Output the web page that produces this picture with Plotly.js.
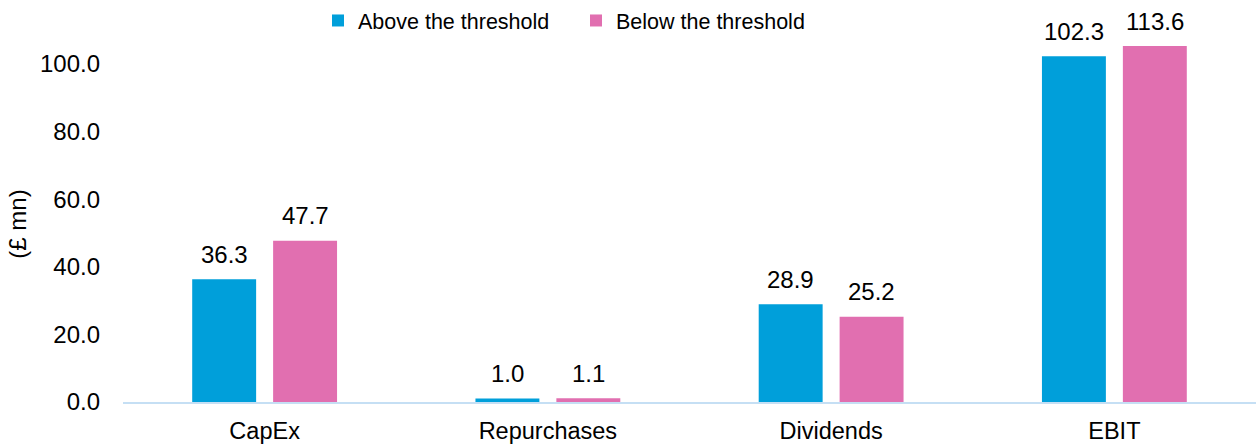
<!DOCTYPE html>
<html>
<head>
<meta charset="utf-8">
<script src="https://cdn.plot.ly/plotly-3.0.1.min.js"></script>
<style>html,body{margin:0;padding:0;background:#fff;}#chart{width:1256px;height:445px;}</style>
</head>
<body>
<div id="chart"></div>
<script>
const categories = ["CapEx", "Repurchases", "Dividends", "EBIT"];
const seriesNames = ["Above the threshold", "Below the threshold"];
const aboveValues = [36.3, 1.0, 28.9, 102.3];
const belowValues = [47.7, 1.1, 25.2, 113.6];
const yTicks = [0, 20, 40, 60, 80, 100];
const yMax = 105.3;

const colors = ["#009FDA", "#E16FB0"];
const fontFamily = "Liberation Sans, Arial, sans-serif";
const bargap = 0.4286;
const bargroupgap = 0.21;

const series = [aboveValues, belowValues];
const traces = series.map((vals, i) => ({
  type: "bar",
  name: seriesNames[i],
  x: categories,
  y: vals,
  marker: {color: colors[i]},
  hoverinfo: "skip"
}));

const slot = (1 - bargap) / 2;
const annotations = [];
series.forEach((vals, s) => {
  vals.forEach((v, k) => {
    annotations.push({
      x: k + (s === 0 ? -slot / 2 : slot / 2),
      y: Math.min(v, yMax),
      xref: "x", yref: "y",
      text: v.toFixed(1),
      showarrow: false,
      yanchor: "middle",
      yshift: 25,
      font: {family: fontFamily, size: 24, color: "#000"}
    });
  });
});

const layout = {
  width: 1256, height: 445,
  margin: {l: 123, r: 0, t: 46, b: 43},
  paper_bgcolor: "#fff", plot_bgcolor: "#fff",
  font: {family: fontFamily, size: 22, color: "#000"},
  barmode: "group",
  bargap: bargap,
  bargroupgap: bargroupgap,
  showlegend: true,
  legend: {
    orientation: "h",
    xref: "container", yref: "container",
    x: 318 / 1256, xanchor: "left",
    y: 1, yanchor: "top",
    entrywidth: 213, entrywidthmode: "pixels",
    font: {family: fontFamily, size: 21.5, color: "#000"},
    traceorder: "normal",
    itemclick: false
  },
  xaxis: {
    type: "category",
    showline: true, linecolor: "#C5DFF4", linewidth: 2,
    ticks: "", showgrid: false, zeroline: false,
    ticklabelstandoff: 7,
    tickfont: {family: fontFamily, size: 23.5, color: "#000"}
  },
  yaxis: {
    range: [0, yMax],
    tickvals: yTicks,
    ticktext: yTicks.map(t => t.toFixed(1)),
    showgrid: false, zeroline: false, showline: false, ticks: "",
    ticklabelstandoff: 22,
    tickfont: {family: fontFamily, size: 24, color: "#000"},
    title: {text: "(£ mn)", standoff: 6, font: {family: fontFamily, size: 24, color: "#000"}}
  },
  annotations: annotations
};

Plotly.newPlot("chart", traces, layout, {displayModeBar: false, staticPlot: true});
</script>
</body>
</html>
